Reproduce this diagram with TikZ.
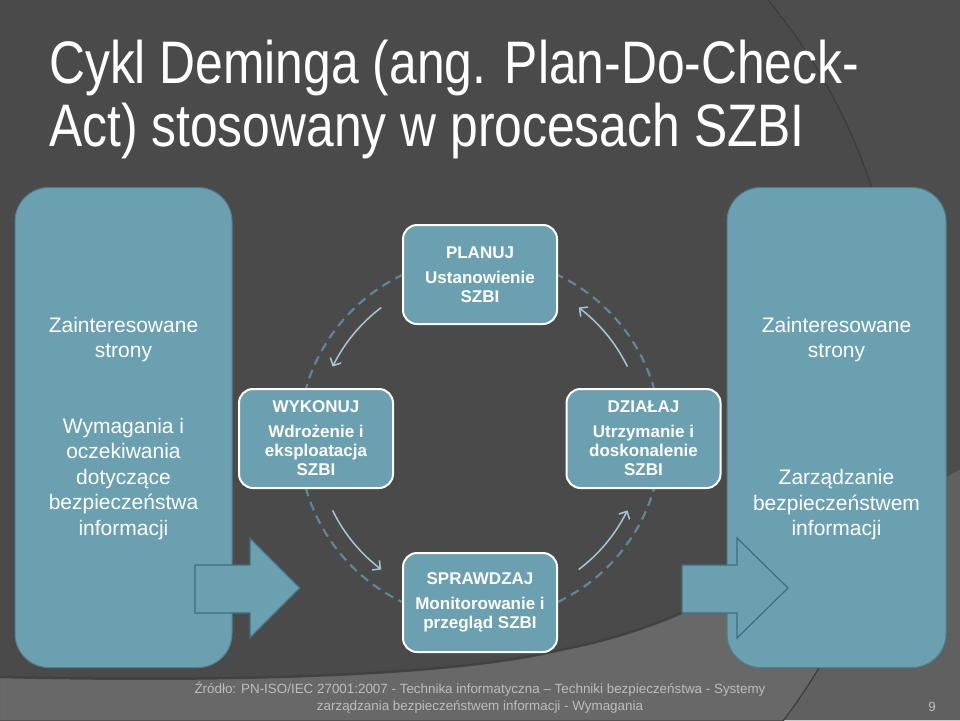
\documentclass[tikz,border=0pt]{standalone}
\usepackage{fontspec}
\setmainfont{Liberation Sans}
\newfontfamily\titlefont[FakeStretch=0.83]{Liberation Sans}
\usetikzlibrary{arrows.meta,calc}
\definecolor{bg}{HTML}{4A4A4A}
\definecolor{bgout}{HTML}{4D4D4D}
\definecolor{band}{HTML}{686868}
\definecolor{bandout}{HTML}{606060}
\definecolor{arcline}{HTML}{3C3C3C}
\definecolor{boxfill}{HTML}{6BA0B1}
\definecolor{sideedge}{HTML}{527F8E}
\definecolor{arrowedge}{HTML}{3E6E7E}
\definecolor{dashcol}{HTML}{5C8897}
\definecolor{cyccol}{HTML}{A6C8D4}
\definecolor{footcol}{HTML}{BDBDBD}
\tikzset{
  sidebox/.style={draw=sideedge, line width=1pt, fill=boxfill, rounded corners=34pt, inner sep=0pt},
  cycbox/.style={draw=white, line width=2pt, fill=boxfill, rounded corners=14pt,
    minimum width=154pt, minimum height=99pt, inner sep=0pt, align=center, text=white,
    font=\bfseries\fontsize{17}{19}\selectfont},
  sidetext/.style={text=white, align=center, inner sep=0pt, font=\fontsize{21}{25.5}\selectfont},
  blockarrow/.style={draw=arrowedge, line width=1.2pt, fill=boxfill, line join=miter},
  dashcirc/.style={draw=dashcol, line width=2.2pt, dash pattern=on 9pt off 6pt},
  cycarrow/.style={draw=cyccol, line width=1.5pt, -{Straight Barb[length=6pt,width=12pt]}},
  foottext/.style={text=footcol, align=center, inner sep=0pt, font=\fontsize{13.4}{17}\selectfont}
}
\begin{document}
\begin{tikzpicture}[x=1pt,y=-1pt]
\useasboundingbox (0,0) rectangle (960,720);
% background
\fill[bg] (0,0) rectangle (960,720);
\begin{scope}
  \clip (0,0) rectangle (960,720);
  \fill[bgout, even odd rule] (0,0) rectangle (960,720) (320,370) circle[radius=581];
  \fill[band] (0,678) .. controls (220,683) and (450,678) .. (560,651)
     .. controls (650,634) and (720,600) .. (780,560) -- (960,470) -- (960,720) -- (0,720) -- cycle;
  \begin{scope}
    \clip (0,678) .. controls (220,683) and (450,678) .. (560,651)
     .. controls (650,634) and (720,600) .. (780,560) -- (960,470) -- (960,720) -- (0,720) -- cycle;
    \fill[bandout, even odd rule] (0,0) rectangle (960,720) (320,370) circle[radius=581];
  \end{scope}
  \draw[arcline, line width=2.5pt, opacity=0.6] (0,677) .. controls (220,682) and (450,677) .. (560,650)
     .. controls (650,633) and (720,599) .. (780,559);
  \draw[arcline, line width=1.2pt] (320,370) circle[radius=581];
\end{scope}

% title
\node[anchor=base west, align=left, inner sep=0pt, text=white,
  font=\titlefont\fontsize{60}{63}\selectfont] (title) at (49,146)
  {Cykl Deminga (ang. Plan-Do-Check-\\Act) stosowany w procesach SZBI};

% side boxes
\node[sidebox, minimum width=217pt, minimum height=480pt] (left) at (123.5,427.5) {};
\node[sidebox, minimum width=219pt, minimum height=480pt] (right) at (836.5,427.5) {};

% cycle
\coordinate (cc) at (480,438.5);
\draw[dashcirc] (cc) circle[radius=181];
\draw[cycarrow] plot[domain=233:206, samples=30, smooth] ({480+164*cos(\x)},{438.5+164*sin(\x)});
\draw[cycarrow] plot[domain=154:127, samples=30, smooth] ({480+164*cos(\x)},{438.5+164*sin(\x)});
\draw[cycarrow] plot[domain=53:26, samples=30, smooth] ({480+164*cos(\x)},{438.5+164*sin(\x)});
\draw[cycarrow] plot[domain=334:307, samples=30, smooth] ({480+164*cos(\x)},{438.5+164*sin(\x)});

\node[cycbox] (plan) at (480,274.5) {PLANUJ\\[6pt]Ustanowienie\\SZBI};
\node[cycbox] (do) at (316,438.5) {WYKONUJ\\[6pt]Wdrożenie i\\eksploatacja\\SZBI};
\node[cycbox] (act) at (643.5,438.5) {DZIAŁAJ\\[6pt]Utrzymanie i\\doskonalenie\\SZBI};
\node[cycbox] (check) at (480,602.5) {SPRAWDZAJ\\[6pt]Monitorowanie i\\przegląd SZBI};

% block arrows
\draw[blockarrow] (195,565) -- (250,565) -- (250,538) -- (300,588) -- (250,638) -- (250,613) -- (195,613) -- cycle;
\draw[blockarrow] (682,565) -- (737,565) -- (737,538) -- (788,588) -- (737,638) -- (737,613) -- (682,613) -- cycle;

% side texts
\node[sidetext] (lt1) at (123.5,339.5) {Zainteresowane\\strony};
\node[sidetext] (lt2) at (123.5,479) {Wymagania i\\oczekiwania\\dotyczące\\bezpieczeństwa\\informacji};
\node[sidetext] (rt1) at (836.5,339.5) {Zainteresowane\\strony};
\node[sidetext] (rt2) at (836.5,505) {Zarządzanie\\bezpieczeństwem\\informacji};

% footer
\node[foottext] (foot) at (480,697.5) {Źródło: PN-ISO/IEC 27001:2007 - Technika informatyczna – Techniki bezpieczeństwa - Systemy\\zarządzania bezpieczeństwem informacji - Wymagania};
\node[foottext, anchor=base] (page) at (932,711) {9};
\end{tikzpicture}
\end{document}
